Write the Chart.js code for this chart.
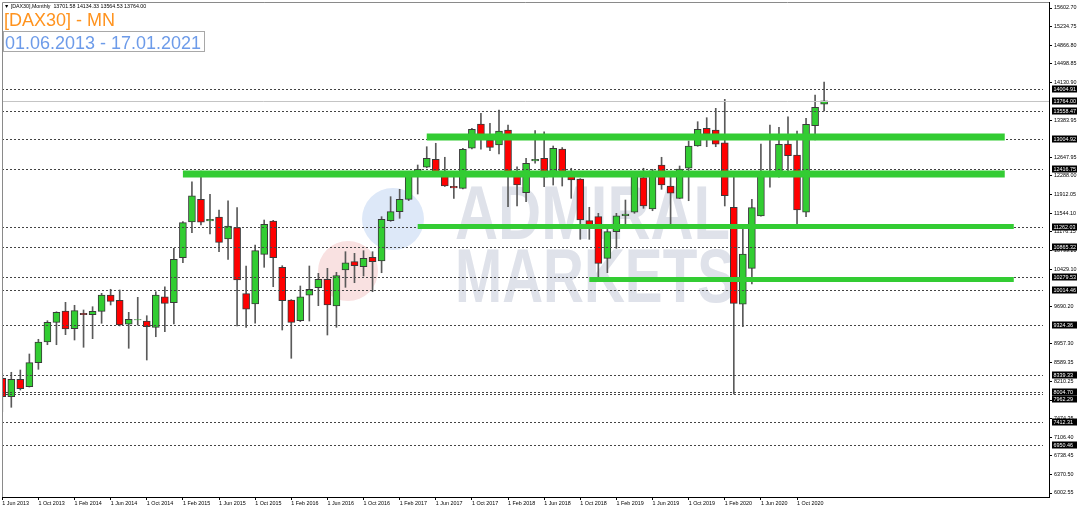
<!DOCTYPE html>
<html>
<head>
<meta charset="utf-8">
<script src="https://cdn.jsdelivr.net/npm/chart.js@4.4.1/dist/chart.umd.min.js"></script>
<style>
  html, body { margin: 0; padding: 0; background: #fff; }
  #wrap { width: 1080px; height: 508px; position: relative; }
</style>
</head>
<body>
<div id="wrap"><canvas id="dax" width="1080" height="508"></canvas></div>
<script>
// monthly candles, Jun 2013 .. Jan 2021
const opens = [8273, 7909, 8253, 8106, 8582, 8991, 9381, 9605, 9255, 9560, 9532, 9599,
  9922, 9817, 9342, 9427, 9407, 9282, 9888, 9770, 10660, 11367, 11816, 11387,
  11466, 11030, 11254, 9948, 9744, 10727, 11387, 10470, 9823, 9413, 9916, 10066,
  10233, 9704, 10417, 10581, 10482, 10668, 10595, 11393, 11571, 11816, 12283, 12450,
  12608, 12376, 12073, 12033, 12826, 13307, 12990, 12891, 13188, 12343, 11947, 12574,
  12628, 12277, 12812, 12343, 12218, 11393, 11472, 10648, 11175, 11491, 11559, 12244,
  11624, 12495, 12079, 11836, 12430, 12871, 13221, 13188, 12936, 11658, 9738, 10450,
  11486, 12331, 12297, 12911, 12693, 11559, 13273, 13701.58];
const highs = [8372, 8392, 8437, 8754, 9045, 9413, 9590, 9777, 9718, 9625, 9690, 9955,
  10035, 10021, 9579, 9876, 9512, 9987, 10086, 10846, 11373, 12164, 12376, 11915,
  11604, 11788, 11650, 10496, 10912, 11406, 11400, 10502, 9830, 10100, 10496, 10351,
  10450, 10371, 10779, 10747, 10799, 10779, 11472, 11868, 12014, 12300, 12495, 12857,
  12925, 12648, 12317, 12826, 13221, 13518, 13320, 13584, 13287, 12461, 12628, 13174,
  13154, 12871, 12840, 12430, 12225, 11658, 11539, 11288, 11539, 11802, 12343, 12430,
  12410, 12648, 12263, 12475, 12970, 13352, 13431, 13617, 13795, 12252, 11307, 11816,
  12911, 13287, 13241, 13451, 13168, 13419, 13881, 14134.33];
const lows = [7612, 7699, 8041, 8100, 8451, 8938, 8938, 9136, 9031, 8887, 9057, 9362,
  9724, 9310, 8867, 9328, 8635, 9096, 9195, 9348, 10561, 11155, 11307, 11129,
  10779, 10628, 9308, 9282, 9362, 10470, 10086, 9229, 8669, 9395, 9407, 9710,
  9130, 9282, 10074, 10165, 10298, 9987, 10363, 11380, 11440, 11790, 11921, 12440,
  12297, 12070, 11836, 12020, 12815, 12806, 12778, 12713, 11670, 11684, 11769, 12529,
  12066, 12099, 12079, 11836, 11024, 11024, 10252, 10363, 10846, 11242, 11539, 11638,
  11590, 12014, 11242, 11830, 11788, 12865, 12857, 12857, 11684, 7962, 9294, 10140,
  11480, 12054, 12252, 12311, 11293, 11472, 12990, 13564.53];
const closes = [7909, 8253, 8067, 8582, 8991, 9381, 9579, 9249, 9611, 9532, 9599, 9922,
  9797, 9328, 9441, 9435, 9294, 9922, 9757, 10628, 11353, 11887, 11361, 11420,
  10965, 11288, 10219, 9639, 10799, 11321, 10660, 9809, 9381, 9888, 10035, 10233,
  9724, 10304, 10561, 10502, 10648, 10581, 11420, 11571, 11816, 12283, 12410, 12628,
  12350, 12079, 12040, 12806, 13202, 13004, 12845, 13168, 12362, 12099, 12529, 12608,
  12252, 12826, 12317, 12198, 11406, 11288, 10549, 11175, 11491, 11525, 12331, 11684,
  12382, 12099, 11935, 12416, 12871, 13202, 13103, 12905, 11887, 9757, 10733, 11650,
  12317, 12283, 12905, 12679, 11604, 13301, 13637, 13764.00];

// time axis labels, one every 4 bars
const xTickIdx = [0, 4, 8, 12, 16, 20, 24, 28, 32, 36, 40, 44, 48, 52, 56, 60, 64, 68, 72, 76, 80, 84, 88];
const xTickLabels = ['1 Jun 2013', '1 Oct 2013', '1 Feb 2014', '1 Jun 2014', '1 Oct 2014', '1 Feb 2015',
  '1 Jun 2015', '1 Oct 2015', '1 Feb 2016', '1 Jun 2016', '1 Oct 2016', '1 Feb 2017', '1 Jun 2017',
  '1 Oct 2017', '1 Feb 2018', '1 Jun 2018', '1 Oct 2018', '1 Feb 2019', '1 Jun 2019', '1 Oct 2019',
  '1 Feb 2020', '1 Jun 2020', '1 Oct 2020'];
const yTickValues = [15602.70, 15234.75, 14866.80, 14498.85, 14130.90, 13383.95, 12647.95, 12288.00,
  11912.05, 11544.10, 11176.15, 10799.20, 10429.10, 9690.20, 8957.30, 8589.35, 8210.25, 7842.30,
  7474.35, 7106.40, 6738.45, 6370.50, 6002.55];

// horizontal levels (dotted) and current price
const levels = [14004.91, 13558.47, 13004.92, 12416.75, 11262.03, 10865.32, 10279.53, 10014.46,
  9324.36, 8339.33, 8004.70, 7962.29, 7412.31, 6950.46];
const lastPrice = 13764.00;

// green support / resistance zones
const zoneValues = [13049, 12317, 11278, 10229];
const zoneFrom = [47, 20, 46, 65];
const zoneTo = [111, 111, 112, 112];
const zoneWidths = [7, 7, 5, 5];

const BULL = '#32cd32', BEAR = '#ff0000';
const tinyFont = { family: 'Liberation Sans', size: 5.4 };

const bodies = {
  data: opens.map((o, i) => ({ x: i, y: [o, closes[i]] })),
  backgroundColor: opens.map((o, i) => closes[i] >= o ? BULL : BEAR),
  borderColor: '#3a3a3a',
  borderWidth: 1,
  borderSkipped: false,
  barThickness: 7,
  grouped: false
};
const wicks = {
  data: lows.map((l, i) => ({ x: i, y: [l, highs[i]] })),
  backgroundColor: '#5a5a5a',
  barThickness: 1,
  grouped: false
};

const overlay = {
  id: 'overlay',
  beforeDatasetsDraw(chart) {
    const ctx = chart.ctx;
    ctx.save();
    // logo circles + watermark
    ctx.fillStyle = '#dde8f8';
    ctx.beginPath(); ctx.arc(393, 219, 31, 0, Math.PI * 2); ctx.fill();
    ctx.fillStyle = '#f9e1e1';
    ctx.beginPath(); ctx.arc(348, 271, 30, 0, Math.PI * 2); ctx.fill();
    ctx.fillStyle = '#dfe2ea';
    ctx.font = 'bold 76px "Liberation Sans"';
    [['ADMIRAL', 455, 239, 275], ['MARKETS', 455, 302, 280]].forEach(([t, x, y, w]) => {
      const m = ctx.measureText(t).width;
      ctx.save();
      ctx.translate(x, y);
      ctx.scale(w / m, 1);
      ctx.fillText(t, 0, 0);
      ctx.restore();
    });
    ctx.restore();
  },
  afterDatasetsDraw(chart) {
    const ctx = chart.ctx, xs = chart.scales.x, ys = chart.scales.y, a = chart.chartArea;
    ctx.save();
    // current price line
    ctx.strokeStyle = '#c4c4c4';
    ctx.lineWidth = 1;
    let py = Math.round(ys.getPixelForValue(lastPrice)) + 0.5;
    ctx.beginPath(); ctx.moveTo(a.left, py); ctx.lineTo(a.right, py); ctx.stroke();
    // dotted levels
    ctx.strokeStyle = '#444';
    ctx.setLineDash([2, 2]);
    levels.forEach(v => {
      const y = Math.round(ys.getPixelForValue(v)) + 0.5;
      ctx.beginPath(); ctx.moveTo(a.left, y); ctx.lineTo(a.right - 6, y); ctx.stroke();
    });
    ctx.setLineDash([]);
    // zones
    ctx.strokeStyle = '#33cc33';
    zoneValues.forEach((v, k) => {
      const y = ys.getPixelForValue(v);
      ctx.lineWidth = zoneWidths[k];
      ctx.beginPath();
      ctx.moveTo(xs.getPixelForValue(zoneFrom[k]), y);
      ctx.lineTo(xs.getPixelForValue(zoneTo[k]), y);
      ctx.stroke();
    });
    ctx.restore();
  },
  afterDraw(chart) {
    const ctx = chart.ctx, ys = chart.scales.y, a = chart.chartArea;
    ctx.save();
    // frame
    ctx.strokeStyle = '#8a8a8a';
    ctx.lineWidth = 1;
    ctx.beginPath();
    ctx.moveTo(a.left + 0.5, a.bottom); ctx.lineTo(a.left + 0.5, a.top + 0.5); ctx.lineTo(a.right, a.top + 0.5);
    ctx.stroke();
    // price labels on the axis, pushed apart when they collide
    ctx.font = '5.4px "Liberation Sans"';
    ctx.textBaseline = 'middle';
    const tags = levels.concat([lastPrice])
      .map(v => ({ v, y: Math.round(ys.getPixelForValue(v)) }))
      .sort((p, q) => p.y - q.y);
    let prev = -100;
    tags.forEach(t => {
      if (t.y < prev + 7) t.y = prev + 7;
      prev = t.y;
      ctx.fillStyle = '#000';
      ctx.fillRect(a.right + 3, t.y - 3.5, 25, 7);
      ctx.fillStyle = '#fff';
      ctx.fillText(t.v.toFixed(2), a.right + 4.5, t.y + 0.3);
    });
    // header
    ctx.fillStyle = '#000';
    ctx.textBaseline = 'alphabetic';
    ctx.font = '5.3px "Liberation Sans"';
    ctx.fillText('\u25BC [DAX30],Monthly  13701.58 14134.33 13564.53 13764.00', 4, 8);
    ctx.font = '18px "Liberation Sans"';
    ctx.fillStyle = '#ff931e';
    ctx.fillText('[DAX30] - MN', 4, 26);
    ctx.strokeStyle = '#a8a8a8';
    ctx.strokeRect(3.5, 31.5, 201, 20);
    ctx.fillStyle = '#6d9be9';
    ctx.font = '19px "Liberation Sans"';
    const t = '01.06.2013 - 17.01.2021';
    const w = ctx.measureText(t).width;
    ctx.save();
    ctx.translate(5, 48.5);
    ctx.scale(196 / w, 1);
    ctx.fillText(t, 0, 0);
    ctx.restore();
    ctx.restore();
  }
};

new Chart(document.getElementById('dax'), {
  type: 'bar',
  data: { datasets: [bodies, wicks] },
  options: {
    responsive: false,
    animation: false,
    layout: { padding: { left: 2, top: 2, right: 0, bottom: 0 } },
    plugins: { legend: { display: false }, tooltip: { enabled: false } },
    scales: {
      x: {
        type: 'linear',
        min: -0.03,
        max: 115.9,
        offset: false,
        grid: { offset: false, drawOnChartArea: false, drawTicks: true, tickLength: 3, color: '#000' },
        border: { display: true, color: '#000' },
        ticks: {
          font: tinyFont, color: '#000', padding: 0, align: 'start',
          maxRotation: 0, autoSkip: false,
          callback: (v, i) => xTickLabels[i]
        },
        afterBuildTicks: s => { s.ticks = xTickIdx.map(v => ({ value: v })); },
        afterFit: s => { s.height = 11; s.paddingLeft = 0; s.paddingRight = 0; }
      },
      y: {
        position: 'right',
        min: 5923.4,
        max: 15721.5,
        grid: { drawOnChartArea: false, drawTicks: true, tickLength: 3, color: '#000' },
        border: { display: true, color: '#000' },
        ticks: {
          font: tinyFont, color: '#000', padding: 2, autoSkip: false,
          callback: v => v.toFixed(2)
        },
        afterBuildTicks: s => { s.ticks = yTickValues.map(v => ({ value: v })); },
        afterFit: s => { s.width = 31; s.paddingTop = 0; s.paddingBottom = 0; }
      }
    }
  },
  plugins: [overlay]
});
</script>
</body>
</html>
